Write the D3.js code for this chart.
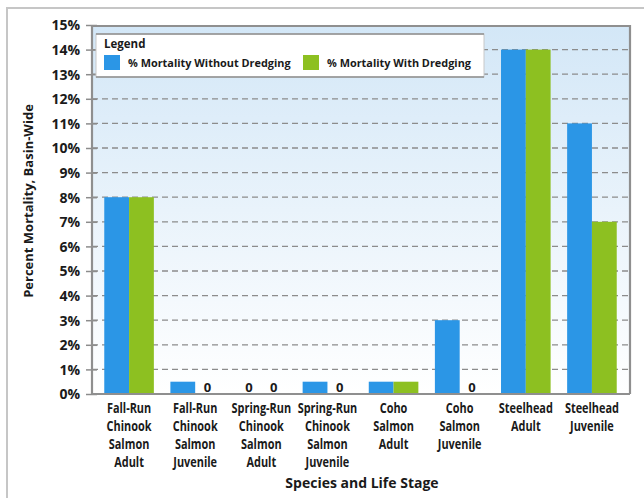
<!DOCTYPE html>
<html>
<head>
<meta charset="utf-8">
<script src="https://cdn.jsdelivr.net/npm/d3@7"></script>
<style>
  html, body { margin: 0; padding: 0; background: #fff; }
  svg { display: block; }
  .cat { font-family: "Open Sans", "Noto Sans", sans-serif; font-weight: 700; font-size: 14px; fill: #1a1a1a; }
  .lbl { font-family: "Open Sans", "Noto Sans", sans-serif; font-weight: 700; fill: #1a1a1a; }
</style>
</head>
<body>
<svg id="chart" width="644" height="498"></svg>
<script>
const categories = [
  ["Fall-Run", "Chinook", "Salmon", "Adult"],
  ["Fall-Run", "Chinook", "Salmon", "Juvenile"],
  ["Spring-Run", "Chinook", "Salmon", "Adult"],
  ["Spring-Run", "Chinook", "Salmon", "Juvenile"],
  ["Coho", "Salmon", "Adult"],
  ["Coho", "Salmon", "Juvenile"],
  ["Steelhead", "Adult"],
  ["Steelhead", "Juvenile"]
];
const seriesNames = ["% Mortality Without Dredging", "% Mortality With Dredging"];
const withoutDredging = [8, 0.5, 0, 0.5, 0.5, 3, 14, 11];
const withDredging = [8, 0, 0, 0, 0.5, 0, 14, 7];
const yTicks = [0, 1, 2, 3, 4, 5, 6, 7, 8, 9, 10, 11, 12, 13, 14, 15];
const seriesColors = ["#2b96e6", "#8dc021"];

const svg = d3.select("#chart");
const plot = { left: 92, right: 630, top: 26, bottom: 394 };

// outer frame
svg.append("rect").attr("x", 7).attr("y", 8).attr("width", 700).attr("height", 600)
  .attr("fill", "none").attr("stroke", "#c6c6c6").attr("stroke-width", 2);

// gradient background
const defs = svg.append("defs");
const grad = defs.append("linearGradient").attr("id", "bg").attr("x1", 0).attr("y1", 0).attr("x2", 0).attr("y2", 1);
grad.append("stop").attr("offset", "0%").attr("stop-color", "#d3e7f7");
grad.append("stop").attr("offset", "100%").attr("stop-color", "#ffffff");
svg.append("rect").attr("x", plot.left).attr("y", plot.top)
  .attr("width", plot.right - plot.left).attr("height", plot.bottom - plot.top)
  .attr("fill", "url(#bg)");

const y = d3.scaleLinear().domain([0, 15]).range([plot.bottom, 25]);
const x0 = d3.scaleBand().domain(d3.range(categories.length)).range([96, 625])
  .paddingInner(0.25).paddingOuter(0.125);
const x1 = d3.scaleBand().domain([0, 1]).range([0, x0.bandwidth()]);

// gridlines (dashed)
svg.append("g").selectAll("line").data(yTicks.filter(t => t > 0 && t < 15)).join("line")
  .attr("x1", plot.left).attr("x2", plot.right)
  .attr("y1", d => y(d)).attr("y2", d => y(d))
  .attr("stroke", "#8c8c8c").attr("stroke-width", 1.3).attr("stroke-dasharray", "6,4");

// y axis
const yAxis = d3.axisLeft(y).tickValues(yTicks).tickFormat(d => d + "%").tickSize(6).tickPadding(6);
const yg = svg.append("g").attr("transform", `translate(${plot.left},0)`).call(yAxis);
yg.select(".domain").remove();
yg.selectAll(".tick line").attr("stroke", "#8c8c8c").attr("stroke-width", 1.5).attr("x2", 5).attr("x1", -6);
yg.selectAll(".tick text").attr("class", "lbl").attr("font-size", 14).attr("x", -12).attr("dy", "0.35em");

// bars
const data = categories.map((c, i) => [withoutDredging[i], withDredging[i]]);
const groups = svg.append("g").selectAll("g").data(data).join("g")
  .attr("transform", (d, i) => `translate(${x0(i)},0)`);
groups.selectAll("rect").data(d => d.map((v, s) => ({ v, s }))).join("rect")
  .filter(d => d.v > 0)
  .attr("x", d => x1(d.s)).attr("width", x1.bandwidth())
  .attr("y", d => y(d.v)).attr("height", d => y(0) - y(d.v))
  .attr("fill", d => seriesColors[d.s]);
groups.selectAll("text.zero").data(d => d.map((v, s) => ({ v, s })).filter(e => e.v === 0)).join("text")
  .attr("class", "lbl zero").attr("font-size", 13)
  .attr("x", d => x1(d.s) + x1.bandwidth() / 2).attr("y", y(0) - 2)
  .attr("text-anchor", "middle").text("0");

// plot frame
svg.append("path")
  .attr("d", `M${plot.left},${plot.bottom}V${plot.top}H${plot.right}V${plot.bottom}`)
  .attr("fill", "none").attr("stroke", "#8f8f8f").attr("stroke-width", 2.2);
svg.append("line").attr("x1", plot.left).attr("x2", plot.right).attr("y1", plot.bottom).attr("y2", plot.bottom)
  .attr("stroke", "#8f8f8f").attr("stroke-width", 2.2);

// category labels (condensed via horizontal scaling)
categories.forEach((lines, i) => {
  const cx = x0(i) + x0.bandwidth() / 2;
  const t = svg.append("text").attr("class", "cat").attr("text-anchor", "middle")
    .attr("transform", `translate(${cx},413) scale(0.78,1)`);
  lines.forEach((ln, j) => t.append("tspan").attr("x", 0).attr("y", j * 18).text(ln));
});

// axis titles
svg.append("text").attr("class", "lbl").attr("font-size", 14).attr("text-anchor", "middle")
  .attr("x", 362).attr("y", 488).text("Species and Life Stage");
svg.append("text").attr("class", "lbl").attr("font-size", 13).attr("text-anchor", "middle")
  .attr("transform", "translate(33,201) rotate(-90)").text("Percent Mortality, Basin-Wide");

// legend
const lg = svg.append("g");
lg.append("rect").attr("x", 96).attr("y", 34).attr("width", 388).attr("height", 43)
  .attr("fill", "#ffffff").attr("stroke", "#c8c8c8").attr("stroke-width", 1);
lg.append("line").attr("x1", 96).attr("x2", 484).attr("y1", 34).attr("y2", 34).attr("stroke", "#8f8f8f").attr("stroke-width", 1.5);
lg.append("line").attr("x1", 96).attr("x2", 484).attr("y1", 77).attr("y2", 77).attr("stroke", "#8f8f8f").attr("stroke-width", 1.5);
lg.append("text").attr("class", "lbl").attr("font-size", 11.5).attr("x", 104).attr("y", 48).text("Legend");
const legX = [104, 303];
seriesNames.forEach((n, i) => {
  lg.append("rect").attr("x", legX[i]).attr("y", 55).attr("width", 16).attr("height", 15).attr("fill", seriesColors[i]);
  lg.append("text").attr("class", "lbl").attr("font-size", 10.9).attr("x", legX[i] + 24).attr("y", 66.5).text(n);
});
</script>
</body>
</html>
